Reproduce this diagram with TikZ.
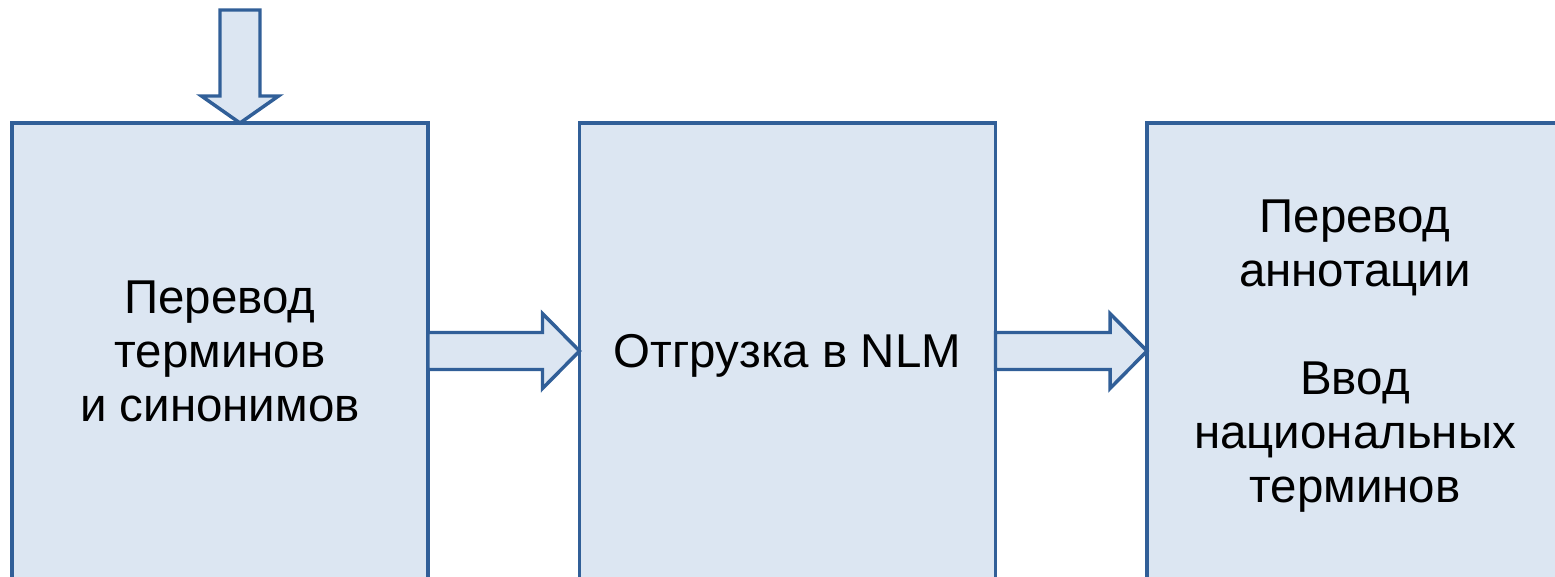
\documentclass[tikz,border=0pt]{standalone}
\usepackage{fontspec}
\setmainfont{Liberation Sans}
\usetikzlibrary{calc}
\definecolor{boxline}{RGB}{49,95,152}
\definecolor{boxfill}{RGB}{220,230,242}
\tikzset{
  stagebox/.style={draw=boxline, fill=boxfill, line width=2.6pt, outer sep=0pt, inner sep=0pt,
    minimum width=312pt, minimum height=342pt, align=center, text depth=0pt,
    font=\fontsize{35.6}{40.5}\selectfont},
  blockarrow/.style={draw=boxline, fill=boxfill, line width=2.6pt, line join=miter}
}

\begin{document}
\begin{tikzpicture}[x=0.75pt,y=0.75pt,yscale=-1,xscale=1]
\useasboundingbox (0,0) rectangle (1555,576);
\clip (0,0) rectangle (1555,576);

% Text Node
\node[stagebox] (transl) at (220,351) {Перевод\\терминов\\и синонимов};
% Text Node
\node[stagebox] (export) at (787.5,351) {Отгрузка в NLM};
% Text Node
\node[stagebox] (annot) at (1355,351) {Перевод\\аннотации\\~\\Ввод\\национальных\\терминов};

% Free end of the input arrow
\coordinate (feed) at (240,10);

% Connection
\draw[blockarrow] ($(feed)+(-20,0)$) -- ($(feed)+(20,0)$) -- ($(transl.north)+(40,-27)$)
  -- ($(transl.north)+(58.5,-27)$) -- ($(transl.north)+(20,0)$)
  -- ($(transl.north)+(-18.5,-27)$) -- ($(transl.north)+(0,-27)$) -- cycle;
% Connection
\draw[blockarrow] ($(transl.east)+(0,-18.5)$) -- ($(export.west)+(-37,-18.5)$)
  -- ($(export.west)+(-37,-37.5)$) -- (export.west) -- ($(export.west)+(-37,37.5)$)
  -- ($(export.west)+(-37,18.5)$) -- ($(transl.east)+(0,18.5)$) -- cycle;
% Connection
\draw[blockarrow] ($(export.east)+(0,-18.5)$) -- ($(annot.west)+(-37,-18.5)$)
  -- ($(annot.west)+(-37,-37.5)$) -- (annot.west) -- ($(annot.west)+(-37,37.5)$)
  -- ($(annot.west)+(-37,18.5)$) -- ($(export.east)+(0,18.5)$) -- cycle;

\end{tikzpicture}
\end{document}
